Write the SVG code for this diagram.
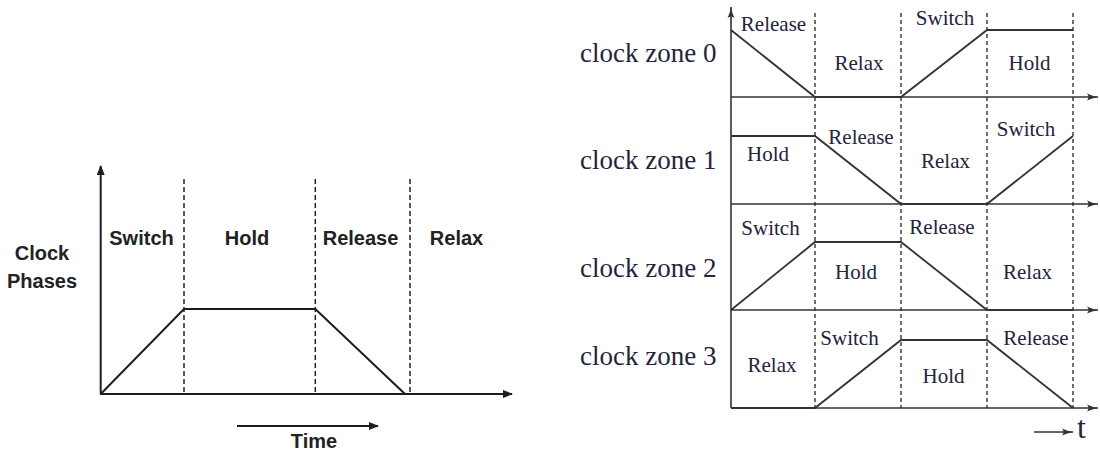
<svg xmlns="http://www.w3.org/2000/svg" width="1100" height="452" viewBox="0 0 1100 452">
<style>
.lbl{font-family:"Liberation Sans",Arial,sans-serif;font-weight:bold;font-size:20px;fill:#222;text-anchor:middle}
.ser{font-family:"Liberation Serif","Times New Roman",serif;fill:#24243a}
.ph{font-size:21px;text-anchor:middle}
.zn{font-size:27px}
.ax{stroke:#1e1e1e;stroke-width:2;fill:none}
.axr{stroke:#333;stroke-width:1.6;fill:none}
.dl{stroke:#222;stroke-width:1.5;stroke-dasharray:5,3;fill:none}
.dr{stroke:#333;stroke-width:1.4;stroke-dasharray:4,3;fill:none}
.sig{stroke:#1e1e1e;stroke-width:2;fill:none}
.sigr{stroke:#333;stroke-width:1.8;fill:none}
</style>
<defs>
<marker id="ah" markerWidth="10" markerHeight="8" refX="9" refY="4" orient="auto" markerUnits="userSpaceOnUse">
<path d="M0,0 L10,4 L0,8 Z" fill="#1e1e1e"/>
</marker>
<marker id="ahr" markerWidth="12" markerHeight="8" refX="11" refY="4" orient="auto" markerUnits="userSpaceOnUse">
<path d="M0,0.5 Q5,3 11,4 Q5,5 0,7.5 Q3,4 0,0.5 Z" fill="#333"/>
</marker>
</defs>
<rect width="1100" height="452" fill="#fff"/>

<g id="left-diagram">
<g id="left-axes">
<line class="ax" x1="100.7" y1="394" x2="100.7" y2="166" marker-end="url(#ah)"/>
<line class="ax" x1="100" y1="394" x2="512" y2="394" marker-end="url(#ah)"/>
<line class="ax" x1="237" y1="426" x2="378" y2="426" marker-end="url(#ah)"/>
</g>
<g id="left-dividers">
<line class="dl" x1="184" y1="179" x2="184" y2="394"/>
<line class="dl" x1="315.3" y1="179" x2="315.3" y2="394"/>
<line class="dl" x1="410" y1="179" x2="410" y2="394"/>
</g>
<g id="left-signal">
<polyline class="sig" points="100.7,394 184,309 315.3,309 405,394"/>
</g>
<g id="left-labels">
<text class="lbl" x="42" y="260">Clock</text>
<text class="lbl" x="42" y="288">Phases</text>
<text class="lbl" x="141.5" y="245">Switch</text>
<text class="lbl" x="247" y="245">Hold</text>
<text class="lbl" x="360.5" y="245">Release</text>
<text class="lbl" x="456.5" y="245">Relax</text>
<text class="lbl" x="314" y="448">Time</text>
</g>
</g>

<g id="right-diagram">
<g id="right-axes">
<line class="axr" x1="731" y1="408" x2="731" y2="7" marker-end="url(#ahr)"/>
<line class="axr" x1="731" y1="97" x2="1098" y2="97" marker-end="url(#ahr)"/>
<line class="axr" x1="731" y1="204" x2="1098" y2="204" marker-end="url(#ahr)"/>
<line class="axr" x1="731" y1="310" x2="1098" y2="310" marker-end="url(#ahr)"/>
<line class="axr" x1="731" y1="408" x2="1098" y2="408" marker-end="url(#ahr)"/>
<line class="axr" x1="1034" y1="432" x2="1073" y2="432" marker-end="url(#ahr)"/>
</g>
<g id="right-dividers">
<line class="dr" x1="815" y1="13" x2="815" y2="408"/>
<line class="dr" x1="901" y1="13" x2="901" y2="408"/>
<line class="dr" x1="987" y1="13" x2="987" y2="408"/>
<line class="dr" x1="1073" y1="13" x2="1073" y2="408"/>
</g>
<g id="zone0">
<polyline class="sigr" points="731,30 815,97 901,97 987,30 1073,30"/>
<text class="ser zn" x="580" y="62">clock zone 0</text>
<text class="ser ph" x="773.5" y="31">Release</text>
<text class="ser ph" x="859" y="70">Relax</text>
<text class="ser ph" x="945" y="25">Switch</text>
<text class="ser ph" x="1029.5" y="70">Hold</text>
</g>
<g id="zone1">
<polyline class="sigr" points="731,136 815,136 901,204 987,204 1073,136"/>
<text class="ser zn" x="580" y="169">clock zone 1</text>
<text class="ser ph" x="768" y="161">Hold</text>
<text class="ser ph" x="861" y="144">Release</text>
<text class="ser ph" x="945.5" y="168">Relax</text>
<text class="ser ph" x="1026" y="136">Switch</text>
</g>
<g id="zone2">
<polyline class="sigr" points="731,310 815,242 901,242 987,310 1073,310"/>
<text class="ser zn" x="580" y="277">clock zone 2</text>
<text class="ser ph" x="770.5" y="235">Switch</text>
<text class="ser ph" x="856" y="279">Hold</text>
<text class="ser ph" x="942" y="234">Release</text>
<text class="ser ph" x="1027.5" y="279">Relax</text>
</g>
<g id="zone3">
<polyline class="sigr" points="731,408 815,408 901,340 987,340 1073,408"/>
<text class="ser zn" x="580" y="365">clock zone 3</text>
<text class="ser ph" x="772" y="372">Relax</text>
<text class="ser ph" x="849.5" y="345">Switch</text>
<text class="ser ph" x="943.5" y="383">Hold</text>
<text class="ser ph" x="1036" y="345">Release</text>
</g>
<text class="ser" x="1077" y="438" font-size="32">t</text>
</g>
</svg>
